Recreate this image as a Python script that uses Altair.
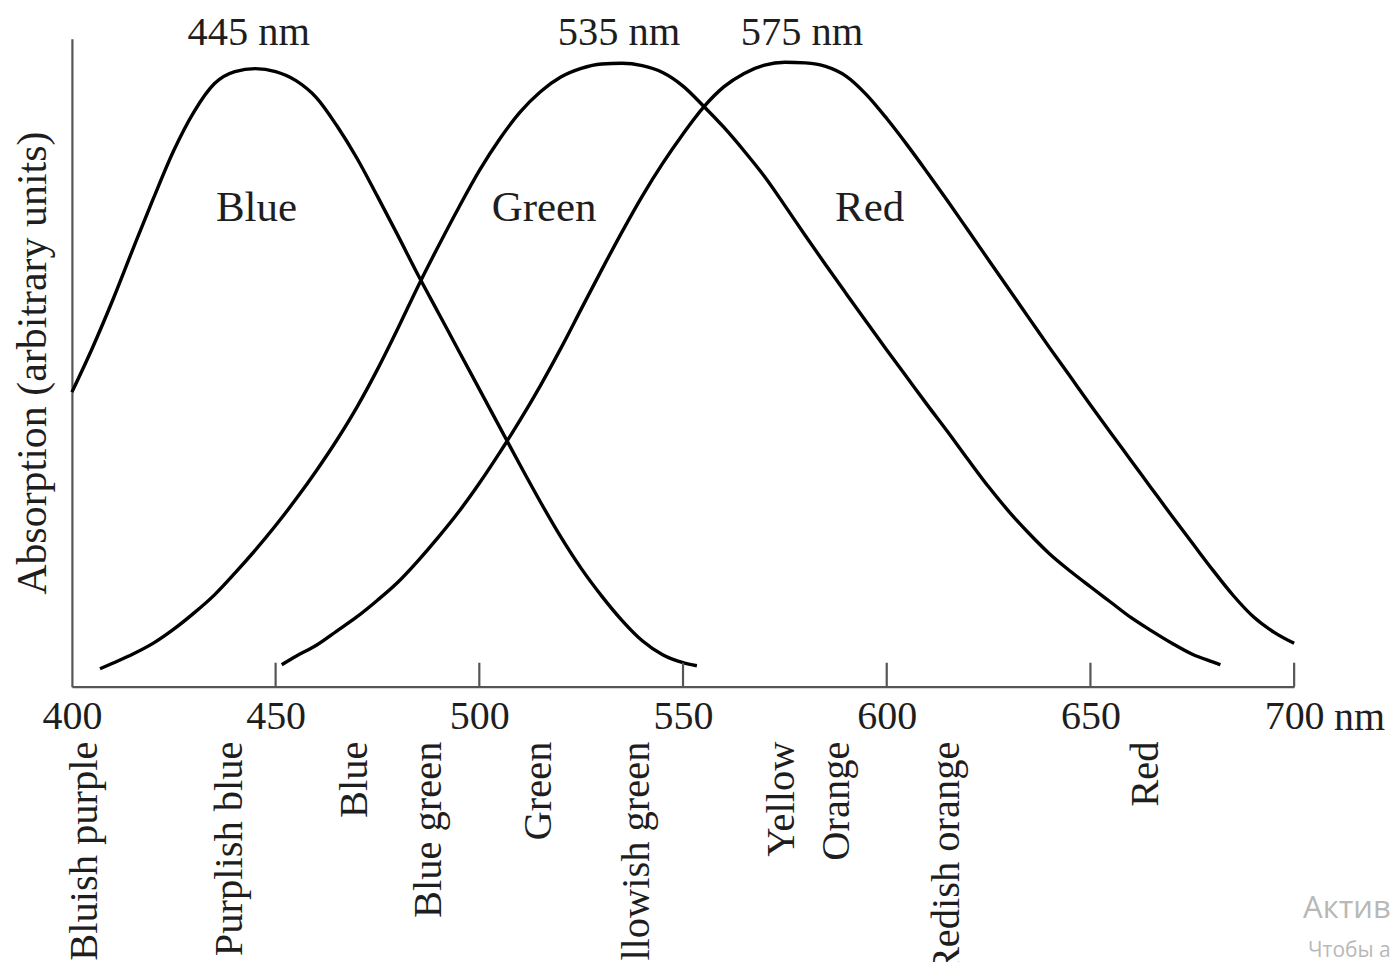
import altair as alt
import pandas as pd

# ---- data (absorption in arbitrary units, 0 at the axis) ----
blue_wl = [400, 405, 410, 415, 420, 425, 430, 435, 440, 445, 450, 455, 460, 465, 470, 475, 480,
           485, 490, 495, 500, 505, 510, 515, 520, 525, 530, 535, 540, 545, 550, 553.4]
blue_abs = [295, 339, 387, 438.5, 489, 537, 576, 604, 616, 619, 616, 607, 590, 562, 529, 491, 452,
            412, 374, 336, 298, 260, 222, 185, 150, 118.5, 91, 66.5, 46, 32, 24, 21]

green_wl = [406.9, 410, 415, 420, 425, 430, 435, 440, 445, 450, 455, 460, 465, 470, 475, 480, 485,
            490, 495, 500, 505, 510, 515, 520, 525, 530, 535, 540, 545, 550, 555, 560, 565, 570,
            575, 580, 585, 590, 595, 600, 605, 610, 615, 620, 625, 630, 635, 640, 645, 650, 655,
            660, 665, 670, 675, 680, 681.9]
green_abs = [18, 23.5, 32.7, 43.6, 57.6, 73.9, 92, 113.7, 136.7, 161.4, 187.9, 216.3, 246.8, 280.3,
             317.8, 358.7, 401.4, 441.6, 480.2, 516.8, 548.5, 575.4, 595.8, 610.5, 619.2, 623.6,
             624.3, 621.9, 615.1, 601.5, 581.6, 560.3, 536.5, 510.9, 481.8, 451.8, 422.6, 393.9,
             365.4, 337.3, 309.6, 282, 255.1, 227.3, 200.2, 175.4, 153.2, 133, 115.9, 100.1, 84.6,
             69.1, 55.9, 43.5, 32.5, 24.8, 22]

red_wl = [451.5, 455, 460, 465, 470, 475, 480, 485, 490, 495, 500, 505, 510, 515, 520, 525, 530,
          535, 540, 545, 550, 555, 560, 565, 570, 575, 580, 585, 590, 595, 600, 605, 610, 615, 620,
          625, 630, 635, 640, 645, 650, 655, 660, 665, 670, 675, 680, 685, 690, 695, 700]
red_abs = [22, 30.5, 41.5, 55.7, 70.1, 86.6, 104.6, 126.3, 150, 175.4, 203.7, 234.4, 266.9, 301.6,
           338.8, 378.1, 417.2, 455.3, 491.4, 524.1, 553.6, 580.2, 600.7, 614.2, 622.5, 625.4,
           624.7, 621.2, 611.5, 593, 569, 542.6, 514.7, 486.1, 456.8, 427.4, 398, 368.6, 339.3,
           310.8, 282.2, 254.1, 226.4, 198.6, 170.9, 143.9, 117, 91.6, 70, 54.7, 43.5]

tick_values = [400, 450, 500, 550, 600, 650, 700]
inner_ticks = [450, 500, 550, 600, 650, 700]

peak_labels = ["445 nm", "535 nm", "575 nm"]
peak_wl = [443.4, 534.3, 579.2]

cone_labels = ["Blue", "Green", "Red"]
cone_wl = [445.3, 515.9, 595.8]
cone_abs = [479, 479, 479]

hue_names = ["Bluish purple", "Purplish blue", "Blue", "Blue green", "Green",
             "Yellowish green", "Yellow", "Orange", "Redish orange", "Red"]
hue_wl = [403.2, 438.7, 469.4, 487.7, 514.7, 538.7, 574.3, 587.7, 614.7, 663.7]

watermark = ["Активация Windows", "Чтобы активировать Windows, перейдите в раздел «Параметры»."]

# ---- tables ----
curves = pd.DataFrame(
    [{"wl": w, "v": a, "cone": "Blue"} for w, a in zip(blue_wl, blue_abs)]
    + [{"wl": w, "v": a, "cone": "Green"} for w, a in zip(green_wl, green_abs)]
    + [{"wl": w, "v": a, "cone": "Red"} for w, a in zip(red_wl, red_abs)]
)
ticks_df = pd.DataFrame({"wl": inner_ticks, "v": [0] * len(inner_ticks), "v2": [24] * len(inner_ticks)})
peaks_df = pd.DataFrame({"wl": peak_wl, "v": [655] * 3, "t": peak_labels})
cones_df = pd.DataFrame({"wl": cone_wl, "v": cone_abs, "t": cone_labels})
hues_df = pd.DataFrame({"wl": hue_wl, "v": [-55] * len(hue_wl), "t": hue_names})
nm_df = pd.DataFrame({"wl": [700], "v": [-31], "t": ["nm"]})
wm1_df = pd.DataFrame({"wl": [702.2], "v": [-223], "t": [watermark[0]]})
wm2_df = pd.DataFrame({"wl": [703.4], "v": [-265], "t": [watermark[1]]})

SERIF = "Liberation Serif"
TXT = "#1e1e1e"
AX = "#555555"

xs = alt.Scale(domain=[400, 700], nice=False, zero=False)
ys = alt.Scale(domain=[0, 649], nice=False, zero=False)

x_enc = alt.X(
    "wl:Q", scale=xs,
    axis=alt.Axis(values=tick_values, ticks=False, grid=False, title=None,
                  labelFont=SERIF, labelFontSize=40, labelColor=TXT, labelPadding=10,
                  domainColor=AX, domainWidth=2.2, labelFlush=False, labelOverlap=False),
)
y_enc = alt.Y(
    "v:Q", scale=ys,
    axis=alt.Axis(ticks=False, labels=False, grid=False, domainColor=AX, domainWidth=2.2,
                  title="Absorption (arbitrary units)", titleFont=SERIF, titleFontSize=42,
                  titleFontWeight="normal", titleColor=TXT, titlePadding=17),
)

lines = alt.Chart(curves).mark_line(color="black", strokeWidth=3.4, interpolate="monotone").encode(
    x=x_enc, y=y_enc, detail="cone:N"
)
tick_rules = alt.Chart(ticks_df).mark_rule(color=AX, strokeWidth=2.2).encode(
    x=x_enc, y=y_enc, y2="v2:Q"
)
peaks = alt.Chart(peaks_df).mark_text(font=SERIF, fontSize=40.5, color=TXT, baseline="middle",
                                      align="center").encode(x=x_enc, y=y_enc, text="t:N")
cones = alt.Chart(cones_df).mark_text(font=SERIF, fontSize=43, color=TXT, baseline="middle",
                                      align="center").encode(x=x_enc, y=y_enc, text="t:N")
hues = alt.Chart(hues_df).mark_text(font=SERIF, fontSize=40.5, color=TXT, baseline="middle",
                                    align="right", angle=270).encode(x=x_enc, y=y_enc, text="t:N")
nm = alt.Chart(nm_df).mark_text(font=SERIF, fontSize=40, color=TXT, baseline="middle",
                                align="left", dx=40).encode(x=x_enc, y=y_enc, text="t:N")
wm1 = alt.Chart(wm1_df).mark_text(font="Open Sans", fontSize=31, color="#b8b8b8", baseline="middle",
                                  align="left").encode(x=x_enc, y=y_enc, text="t:N")
wm2 = alt.Chart(wm2_df).mark_text(font="Open Sans", fontSize=21, color="#b8b8b8", baseline="middle",
                                  align="left").encode(x=x_enc, y=y_enc, text="t:N")

chart = alt.layer(lines, tick_rules, peaks, cones, hues, nm, wm1, wm2).properties(
    width=1224, height=649,
    autosize=alt.AutoSizeParams(type="none"),
    padding={"left": 64, "top": 30, "right": 96, "bottom": 275},
    background="white",
).configure_view(strokeWidth=0)

chart.save("out.html", embed_options={"renderer": "svg", "actions": False})
